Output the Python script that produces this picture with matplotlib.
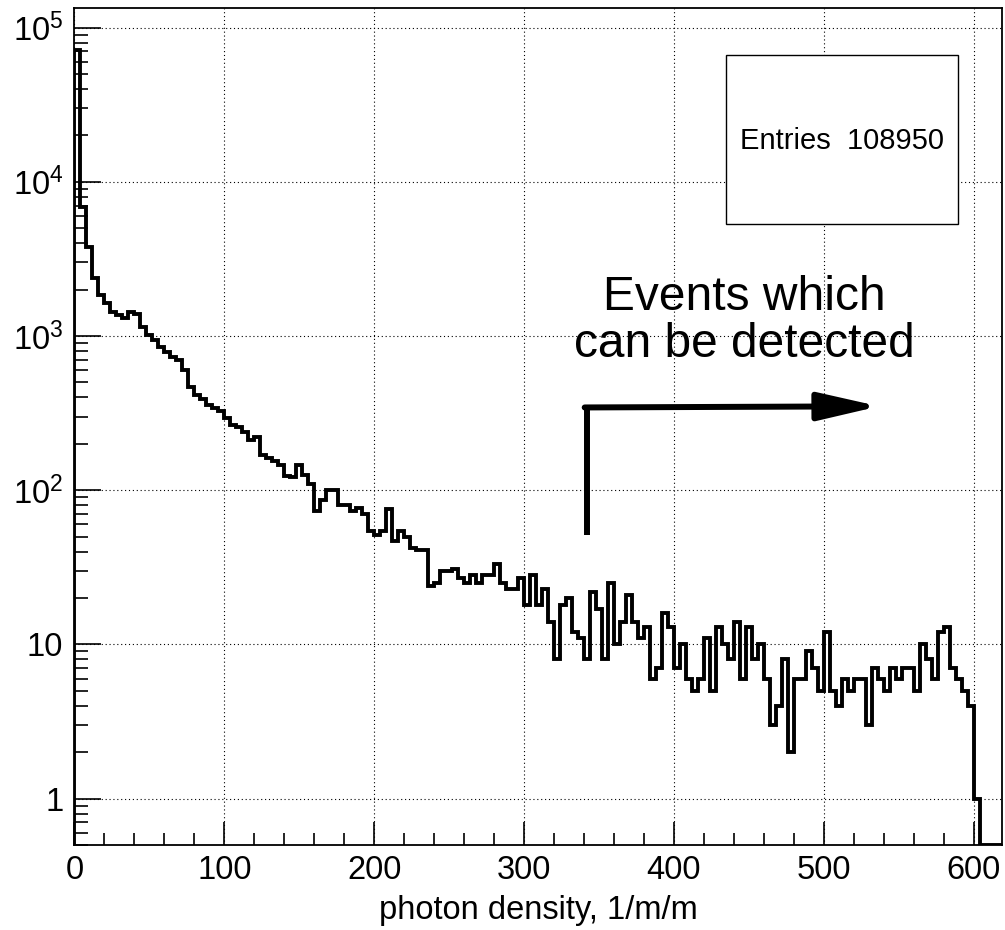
import numpy as np
import matplotlib
matplotlib.use("Agg")
import matplotlib.pyplot as plt
from matplotlib.patches import Rectangle
from matplotlib.ticker import MultipleLocator, LogLocator, FuncFormatter, NullFormatter

plt.rcParams['font.family'] = ['Liberation Sans', 'DejaVu Sans']
plt.rcParams['mathtext.fontset'] = 'custom'
plt.rcParams['mathtext.rm'] = 'Liberation Sans'
plt.rcParams['mathtext.it'] = 'Liberation Sans:italic'
plt.rcParams['mathtext.bf'] = 'Liberation Sans:bold'

# histogram: 4 units per bin starting at 0
bin_width = 4
counts = [
    71500, 6900, 3800, 2370, 1845, 1630, 1440, 1370, 1300, 1430,
    1380, 1150, 1016, 944, 853, 792, 735, 700, 603, 470,
    415, 389, 357, 340, 324, 293, 265, 256, 240, 212,
    221, 168, 162, 154, 145, 123, 121, 146, 126, 110,
    73, 86, 101, 101, 80, 80, 73, 77, 70, 54,
    51, 54, 75, 47, 54, 50, 42, 41, 41, 24,
    25, 30, 30, 31, 27, 25, 28, 25, 28, 28,
    33, 25, 23, 23, 27, 18, 28, 18, 23, 14,
    8, 18, 20, 12, 11, 8, 22, 17, 8, 25,
    10, 14, 21, 14, 11, 13, 6, 7, 16, 13,
    7, 10, 6, 5, 6, 11, 5, 13, 10, 8,
    14, 6, 13, 8, 10, 6, 3, 4, 8, 2,
    6, 6, 9, 7, 5, 12, 5, 4, 6, 5,
    6, 6, 3, 7, 6, 5, 7, 6, 7, 7,
    5, 10, 8, 6, 12, 13, 7, 6, 5, 4,
    1, 0, 0, 0, 0,
]
entries = 108950
x_label = "photon density, 1/m/m"
note = "Events which\ncan be detected"

x_lim = (0, 619)
y_lim = (0.5, 1.34e5)

counts = np.array(counts, dtype=float)
edges = np.arange(len(counts) + 1) * bin_width

fig = plt.figure(figsize=(10.05, 9.3), dpi=100)
ax = fig.add_axes([0.0741, 0.0914, 0.9229, 0.9])
ax.set_yscale('log')

# empty bins sit on the bottom of the frame, as ROOT draws them
shown = np.where(counts > 0, counts, y_lim[0])
ax.stairs(shown, edges, baseline=y_lim[0], color='black', lw=2.8, zorder=3)

ax.set_xlim(*x_lim)
ax.set_ylim(*y_lim)

ax.xaxis.set_major_locator(MultipleLocator(100))
ax.xaxis.set_minor_locator(MultipleLocator(20))
ax.yaxis.set_major_locator(LogLocator(base=10))
ax.yaxis.set_minor_locator(LogLocator(base=10, subs=np.arange(2, 10)))
ax.yaxis.set_minor_formatter(NullFormatter())


def log_label(v, pos):
    e = int(round(np.log10(v)))
    if e == 0:
        return '1'
    if e == 1:
        return '10'
    return r'$\mathregular{10^{%d}}$' % e


ax.yaxis.set_major_formatter(FuncFormatter(log_label))

ax.grid(True, which='major', color='black', linestyle=(0, (1, 2.5)), lw=0.8)
ax.set_axisbelow(True)

ax.tick_params(axis='both', which='both', direction='in', top=False, right=False,
               width=1.2, labelsize=23.5)
ax.tick_params(axis='x', which='major', length=16.5, pad=7)
ax.tick_params(axis='x', which='minor', length=8.4)
ax.tick_params(axis='y', which='major', length=19.5, pad=8)
ax.tick_params(axis='y', which='minor', length=10)
for s in ax.spines.values():
    s.set_linewidth(1.3)

ax.set_xlabel(x_label, fontsize=23.5, labelpad=7)

# stats box
ax.add_patch(Rectangle((0.702, 0.742), 0.251, 0.2018, transform=ax.transAxes,
                       facecolor='white', edgecolor='black', lw=1.0, zorder=5))
ax.text(0.8275, 0.841, 'Entries  %d' % entries, transform=ax.transAxes,
        ha='center', va='center', fontsize=21, zorder=6)

# annotation arrow and text
ax.plot([342, 342], [51.4, 344], color='black', lw=4.3, solid_capstyle='butt', zorder=4)
ax.annotate('', xy=(537, 350), xytext=(340.5, 344),
            arrowprops=dict(arrowstyle='-|>,head_length=37,head_width=8.5',
                            mutation_scale=1, lw=4.3, color='black',
                            shrinkA=0, shrinkB=0), zorder=4)
ax.text(447, 1253, note, ha='center', va='center', fontsize=34.5, linespacing=1.05)

fig.savefig('out.png', dpi=100)
